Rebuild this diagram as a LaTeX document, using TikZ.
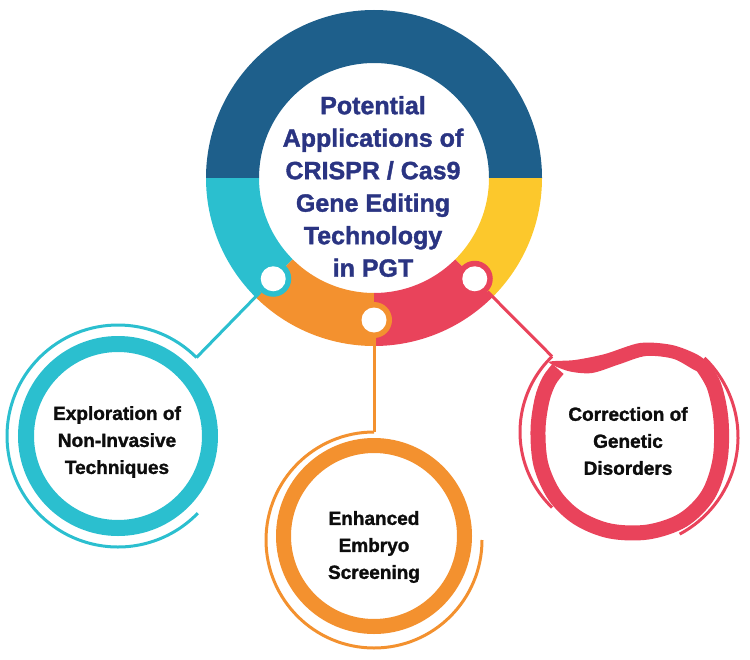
\documentclass[tikz,border=0pt]{standalone}
\usepackage{fontspec}
\setmainfont{Liberation Sans}[BoldFeatures={FakeBold=1.5}]
\definecolor{cblue}{HTML}{1E5F8B}
\definecolor{ccyan}{HTML}{2BBFCF}
\definecolor{corange}{HTML}{F3912F}
\definecolor{cred}{HTML}{E9435B}
\definecolor{cyellow}{HTML}{FCC82C}
\definecolor{cnavy}{HTML}{2A3482}
\definecolor{ctext}{HTML}{0D0D0D}
\newcommand\ringsector[3]{\fill[#1] ([shift={(#2:168)}]mc) arc[start angle=#2,end angle=#3,radius=168] -- ([shift={(#3:115)}]mc) arc[start angle=#3,end angle=#2,radius=115] -- cycle;}
\begin{document}
\begin{tikzpicture}[x=1bp,y=-1bp,
  thinline/.style={line width=3bp},
  thickring/.style={line width=16bp},
  tab/.style={circle,minimum size=36bp,inner sep=0pt},
  boxtxt/.style={align=center,text=ctext,font=\bfseries\fontsize{19bp}{27bp}\selectfont,inner sep=0pt},
  titletxt/.style={align=center,text=cnavy,font=\bfseries\fontsize{25bp}{32.5bp}\selectfont,inner sep=0pt}]
\useasboundingbox (0,0) rectangle (750,660);
\coordinate (mc) at (374,178);
% main ring
\ringsector{cblue}{0}{-180}
\ringsector{ccyan}{-180}{-225}
\ringsector{corange}{-225}{-270}
\ringsector{cred}{-270}{-315}
\ringsector{cyellow}{-315}{-360}
% tabs
\node[tab,fill=ccyan] (s1) at ([shift={(-225:142.5)}]mc) {};
\node[tab,fill=corange] (s2) at ([shift={(-270:142)}]mc) {};
\node[tab,fill=cred] (s3) at ([shift={(-315:142.5)}]mc) {};
\foreach \s in {s1,s2,s3} {\fill[white] (\s) circle (12.5);}
\node[titletxt] (title) at (373,186.5) {Potential\\Applications of\\CRISPR / Cas9\\Gene Editing\\Technology\\in PGT};
% left circle
\coordinate (lc) at (118,436);
\coordinate (e1) at ([shift={(-45:111)}]lc);
\draw[ccyan,thinline] (e1) arc[start angle=-45,end angle=-316,radius=111];
\draw[ccyan,thickring] (lc) circle (92);
\draw[ccyan,thinline] (s1) -- (e1);
\node[boxtxt] (t1) at (117,442) {Exploration of\\Non-Invasive\\Techniques};
% middle circle
\coordinate (mcc) at (374,536);
\coordinate (e2) at (374,432);
\draw[corange,thinline] (e2) arc[start angle=-90,end angle=-360,radius=108];
\draw[corange,line width=15bp] (mcc) circle (90.5);
\draw[corange,thinline] (s2) -- (e2);
\node[boxtxt] (t2) at (374,547) {Enhanced\\Embryo\\Screening};
% right circle
\coordinate (e3) at ([shift={(-134:105)}]625,432);
\draw[cred,thinline] (e3) arc[start angle=-134,end angle=-226,radius=105];
\draw[cred,thinline] ([shift={(-46:110)}]628,437) arc[start angle=-46,end angle=62,radius=110];
\draw[cred,line width=15bp] plot[smooth,tension=0.55] coordinates {(701,364) (714,386) (721,420) (720,460) (708,495) (683,520) (648,532) (610,531) (578,518) (555,496) (541,465) (538,430) (542,400) (549,381) (558,369)};
\fill[cred] plot[smooth cycle,tension=0.5] coordinates {(549,362) (575,360) (605,354) (640,343) (672,345) (698,355) (711,367) (699,372) (674,359) (646,356) (620,364) (592,373) (568,371)};
\draw[cred,thinline] (s3) -- (e3);
\node[boxtxt] (t3) at (628,441) {Correction of\\Genetic\\Disorders};
\end{tikzpicture}
\end{document}
